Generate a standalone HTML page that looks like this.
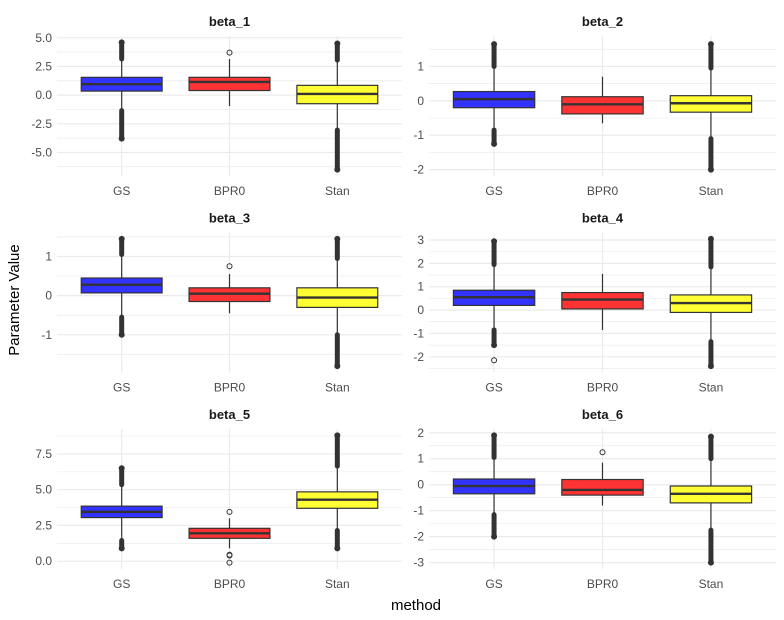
<!DOCTYPE html>
<html><head><meta charset="utf-8"><style>
html,body{margin:0;padding:0;background:#fff;}
svg{display:block;font-family:"Liberation Sans",Arial,sans-serif;}
</style></head><body>
<svg id="c" width="784" height="620" viewBox="0 0 784 620">
<text x="19" y="300" transform="rotate(-90 19 300)" text-anchor="middle" font-size="15" fill="#000">Parameter Value</text>
<text x="416" y="610" text-anchor="middle" font-size="15" fill="#000">method</text>
</svg>
<script>
const methods = ["GS","BPR0","Stan"];
const panelNames = ["beta_1","beta_2","beta_3","beta_4","beta_5","beta_6"];
const panelTicks = [[-5,-2.5,0,2.5,5],[-2,-1,0,1],[-1,0,1],[-2,-1,0,1,2,3],[0,2.5,5,7.5],[-3,-2,-1,0,1,2]];
const panelTickLabels = [["-5.0","-2.5","0.0","2.5","5.0"],["-2","-1","0","1"],["-1","0","1"],["-2","-1","0","1","2","3"],["0.0","2.5","5.0","7.5"],["-3","-2","-1","0","1","2"]];
// [whiskerLow, q1, median, q3, whiskerHigh] per method
const boxStats = [
 [[-1.3,0.35,0.95,1.55,3.1],[-0.95,0.4,1.15,1.55,3.15],[-3.0,-0.75,0.1,0.85,3.0]],
 [[-0.8,-0.2,0.05,0.27,0.95],[-0.65,-0.38,-0.1,0.12,0.7],[-1.05,-0.33,-0.07,0.15,0.9]],
 [[-0.5,0.07,0.28,0.45,1.0],[-0.45,-0.15,0.05,0.2,0.55],[-0.95,-0.3,-0.05,0.2,0.9]],
 [[-0.8,0.2,0.55,0.85,1.9],[-0.85,0.05,0.45,0.75,1.55],[-1.3,-0.1,0.3,0.65,1.8]],
 [[1.5,3.05,3.45,3.85,5.3],[0.9,1.6,1.95,2.3,3.0],[2.2,3.7,4.3,4.85,6.6]],
 [[-1.1,-0.35,-0.05,0.22,1.0],[-0.8,-0.4,-0.2,0.2,0.85],[-1.7,-0.7,-0.35,-0.05,0.95]]
];
// dense outlier runs [from,to]
const outlierRuns = [
 [[[3.15,4.6],[-1.35,-3.8]],[],[[3.05,4.5],[-3.05,-6.5]]],
 [[[1.0,1.65],[-0.85,-1.25]],[],[[0.95,1.65],[-1.1,-2.0]]],
 [[[1.05,1.45],[-0.55,-1.0]],[],[[0.95,1.45],[-1.0,-1.8]]],
 [[[1.95,2.95],[-0.85,-1.5]],[],[[1.85,3.05],[-1.35,-2.4]]],
 [[[5.35,6.5],[1.45,0.9]],[],[[6.65,8.8],[2.15,0.9]]],
 [[[1.05,1.9],[-1.15,-2.0]],[],[[1.0,1.85],[-1.75,-3.0]]]
];
const outlierPoints = [
 [[],[3.7],[]],[[],[],[]],[[],[0.75],[]],[[-2.15],[],[]],[[],[3.45,0.45,0.4,-0.1],[]],[[],[1.25],[]]
];
const dataMin = [-6.5,-2.0,-1.8,-2.4,-0.1,-3.0];
const dataMax = [4.6,1.7,1.45,3.05,8.8,1.9];

const fills = ["#3333ff","#ff3333","#ffff33"];
const NS="http://www.w3.org/2000/svg";
const svg=document.getElementById('c');
function mk(tag,attrs,parent){const e=document.createElementNS(NS,tag);for(const k in attrs)e.setAttribute(k,attrs[k]);(parent||svg).appendChild(e);return e;}

panelNames.forEach((name,p)=>{
  const col=p%2,row=Math.floor(p/2);
  const x0=col?429:57,x1=col?776:402;
  const y0=36+row*196.5,y1=y0+140;
  const g=mk('g',{});
  
  
  const lo=dataMin[p],hi=dataMax[p],ex=(hi-lo)*0.05;
  const dlo=lo-ex,dhi=hi+ex;
  const ys=v=>y1-(v-dlo)/(dhi-dlo)*(y1-y0);
  const bw=(x1-x0)/3.2;
  const xs=i=>x0+(0.6+i)*bw;
  const ticks=panelTicks[p];
  const step=ticks[1]-ticks[0];
  for(let t=ticks[0]-step/2;t<=dhi;t+=step){ if(t<dlo)continue;
    const l=mk('line',{x1:x0,x2:x1,y1:ys(t),y2:ys(t),stroke:'#ebebeb','stroke-width':0.7},g);
    
    
  }
  ticks.forEach((t,i)=>{
    const l=mk('line',{x1:x0,x2:x1,y1:ys(t),y2:ys(t),stroke:'#ebebeb','stroke-width':1.2},g);
    
    
    const tx=mk('text',{x:x0-5,y:ys(t)+4,'text-anchor':'end','font-size':12,fill:'#4d4d4d'},g);
    tx.textContent=panelTickLabels[p][i];
    
    
  });
  methods.forEach((m,i)=>{
    const l=mk('line',{x1:xs(i),x2:xs(i),y1:y0,y2:y1,stroke:'#ebebeb','stroke-width':1.2},g);
    
    
    const tx=mk('text',{x:xs(i),y:y1+19,'text-anchor':'middle','font-size':12,fill:'#4d4d4d'},g);
    tx.textContent=m;
    
    
  });
  const tt=mk('text',{x:(x0+x1)/2,y:y0-10,'text-anchor':'middle','font-size':13,'font-weight':'bold',fill:'#1a1a1a'},g);
  tt.textContent=name;
  
  
  methods.forEach((m,i)=>{
    const s=boxStats[p][i],cx=xs(i),hw=bw*0.375;
    const bg=mk('g',{},g);
    
    
    mk('line',{x1:cx,x2:cx,y1:ys(s[0]),y2:ys(s[4]),stroke:'#333','stroke-width':1.2},bg);
    mk('rect',{x:cx-hw,y:ys(s[3]),width:2*hw,height:ys(s[1])-ys(s[3]),fill:fills[i],stroke:'#333','stroke-width':1.2},bg);
    mk('line',{x1:cx-hw,x2:cx+hw,y1:ys(s[2]),y2:ys(s[2]),stroke:'#333','stroke-width':2.4},bg);
    outlierRuns[p][i].forEach(r=>{
      const ol=mk('line',{x1:cx,x2:cx,y1:ys(r[0]),y2:ys(r[1]),stroke:'#333','stroke-width':5,'stroke-linecap':'round'},bg);
      
      
      mk('circle',{cx:cx,cy:ys(r[1]),r:2.5,fill:'none',stroke:'#333','stroke-width':1},bg);
    });
    outlierPoints[p][i].forEach(v=>{
      const c=mk('circle',{cx:cx,cy:ys(v),r:2.5,fill:'none',stroke:'#333','stroke-width':1},bg);
      
      
    });
  });
});
</script>
</body></html>
